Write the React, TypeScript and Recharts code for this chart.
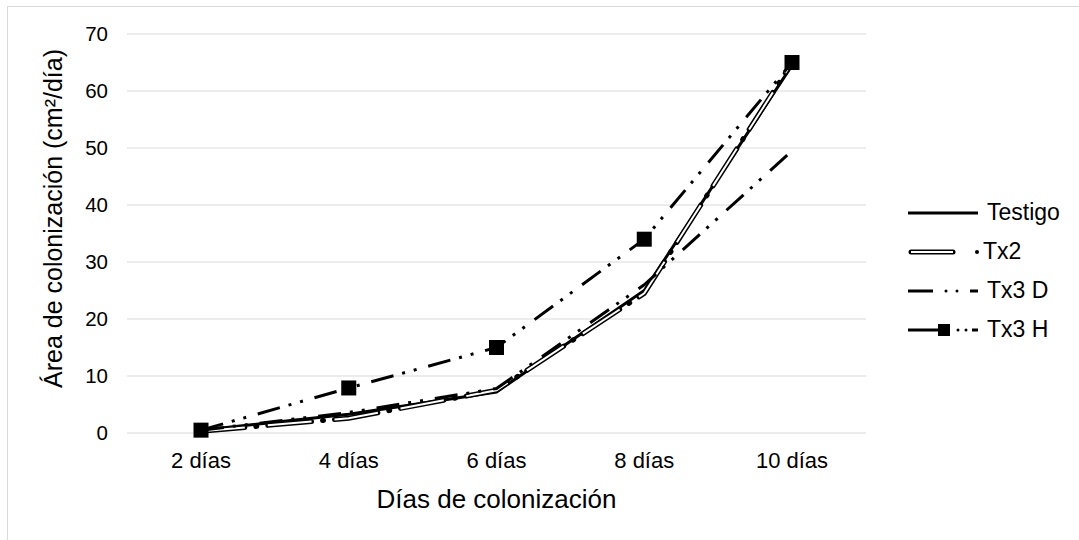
import React from 'react';
import { LineChart, Line, XAxis, YAxis, CartesianGrid, Legend, Label } from 'recharts';

// Colonisation area per day for each treatment
const categories = ['2 días', '4 días', '6 días', '8 días', '10 días'];
const testigo = [0.5, 3.3, 7.2, 25, 64.5];
const tx2 = [0.3, 2.6, 7.5, 24.5, 65];
const tx3D = [0.5, 3.6, 7.8, 26, 49.5];
const tx3H = [0.5, 7.9, 15, 34, 65];
const yTicks = [0, 10, 20, 30, 40, 50, 60, 70];
const seriesNames = ['Testigo', 'Tx2', 'Tx3 D', 'Tx3 H'];

const data = categories.map((dia, i) => ({
  dia,
  testigo: testigo[i],
  tx2: tx2[i],
  tx3D: tx3D[i],
  tx3H: tx3H[i],
}));

const FONT = "'Liberation Sans', Arial, Helvetica, sans-serif";
const DASH_DOT_DOT = '23 9 3 9 3 12';

const SquareDot = (props: any) => {
  const { cx, cy, index } = props;
  if (cx == null || cy == null) return <g key={index} />;
  return <rect key={index} x={cx - 7.5} y={cy - 7.5} width={15} height={15} fill="#000" />;
};

const LegendIcon = ({ idx }: { idx: number }) => {
  const y = 10;
  if (idx === 0) {
    return <line x1={0} x2={70} y1={y} y2={y} stroke="#000" strokeWidth={3} />;
  }
  if (idx === 1) {
    return (
      <g>
        <line x1={3} x2={45} y1={y} y2={y} stroke="#000" strokeWidth={5} strokeLinecap="round" />
        <line x1={3} x2={45} y1={y} y2={y} stroke="#fff" strokeWidth={2} />
        <circle cx={69} cy={y} r={2} fill="#000" />
      </g>
    );
  }
  if (idx === 2) {
    return (
      <g>
        <line x1={0} x2={25} y1={y} y2={y} stroke="#000" strokeWidth={3} />
        <circle cx={38} cy={y} r={1.5} fill="#000" />
        <circle cx={49} cy={y} r={1.5} fill="#000" />
        <line x1={62} x2={70} y1={y} y2={y} stroke="#000" strokeWidth={3} />
      </g>
    );
  }
  return (
    <g>
      <line x1={0} x2={30} y1={y} y2={y} stroke="#000" strokeWidth={3} />
      <rect x={30} y={y - 6} width={12} height={12} fill="#000" />
      <circle cx={50} cy={y} r={1.5} fill="#000" />
      <circle cx={58} cy={y} r={1.5} fill="#000" />
      <line x1={64} x2={70} y1={y} y2={y} stroke="#000" strokeWidth={3} />
    </g>
  );
};

const LegendContent = () => (
  <div style={{ fontFamily: FONT, fontSize: 23, color: '#000' }}>
    {seriesNames.map((name, i) => (
      <div key={name} style={{ display: 'flex', alignItems: 'center', height: 39 }}>
        <svg width={72} height={20} style={{ marginLeft: 8, marginRight: i === 1 ? 3 : 7 }}>
          <LegendIcon idx={i} />
        </svg>
        <span>{name}</span>
      </div>
    ))}
  </div>
);

export default function App() {
  return (
    <div style={{ position: 'absolute', left: 0, top: 0, width: 1079, height: 540, overflow: 'hidden', background: '#fff' }}>
      <div
        style={{
          position: 'absolute',
          left: 7,
          top: 6,
          width: 1200,
          height: 700,
          border: '1px solid #d9d9d9',
        }}
      />
      <div style={{ position: 'absolute', left: 0, top: 0 }}>
        <LineChart
          width={1079}
          height={540}
          data={data}
          margin={{ top: 34, right: 213, bottom: 32, left: 0 }}
          style={{ fontFamily: FONT }}
        >
          <CartesianGrid vertical={false} stroke="#d9d9d9" strokeWidth={1} />
          <XAxis
            dataKey="dia"
            height={75}
            axisLine={false}
            tickLine={false}
            tickMargin={13}
            padding={{ left: 74, right: 74 }}
            tick={{ fill: '#000', fontSize: 22, fontFamily: FONT }}
            interval={0}
          >
            <Label
              content={(p: any) => {
                const vb = p.viewBox || {};
                return (
                  <text
                    x={vb.x + vb.width / 2}
                    y={vb.y + 75}
                    textAnchor="middle"
                    fontSize={26}
                    fontFamily={FONT}
                    fill="#000"
                  >
                    Días de colonización
                  </text>
                );
              }}
            />
          </XAxis>
          <YAxis
            width={127}
            domain={[0, 70]}
            ticks={yTicks}
            axisLine={false}
            tickLine={false}
            tickMargin={13}
            tick={{ fill: '#000', fontSize: 20.5, fontFamily: FONT }}
          >
            <Label
              content={(p: any) => {
                const vb = p.viewBox || {};
                const cx = vb.x + 53;
                const cy = vb.y + vb.height / 2 - 15;
                return (
                  <text
                    x={cx}
                    y={cy}
                    transform={`rotate(-90, ${cx}, ${cy})`}
                    textAnchor="middle"
                    dominantBaseline="central"
                    fontSize={25}
                    fontFamily={FONT}
                    fill="#000"
                  >
                    Área de colonización (cm²/día)
                  </text>
                );
              }}
            />
          </YAxis>
          <Legend
            layout="vertical"
            align="center"
            verticalAlign="middle"
            wrapperStyle={{ position: 'absolute', left: 900, top: 193, width: 179 }}
            content={() => <LegendContent />}
          />
          <Line
            dataKey="testigo"
            name={seriesNames[0]}
            stroke="#000"
            strokeWidth={3}
            dot={false}
            isAnimationActive={false}
          />
          <Line
            dataKey="tx2"
            name={seriesNames[1]}
            stroke="#000"
            strokeWidth={5}
            strokeDasharray="44 11 1 11"
            strokeLinecap="round"
            dot={false}
            legendType="none"
            isAnimationActive={false}
          />
          <Line
            dataKey="tx2"
            name="tx2-core"
            stroke="#fff"
            strokeWidth={2}
            strokeDasharray="44 23"
            dot={false}
            legendType="none"
            isAnimationActive={false}
          />
          <Line
            dataKey="tx3D"
            name={seriesNames[2]}
            stroke="#000"
            strokeWidth={3}
            strokeDasharray={DASH_DOT_DOT}
            dot={false}
            isAnimationActive={false}
          />
          <Line
            dataKey="tx3H"
            name={seriesNames[3]}
            stroke="#000"
            strokeWidth={3}
            strokeDasharray={DASH_DOT_DOT}
            dot={<SquareDot />}
            isAnimationActive={false}
          />
        </LineChart>
      </div>
    </div>
  );
}
